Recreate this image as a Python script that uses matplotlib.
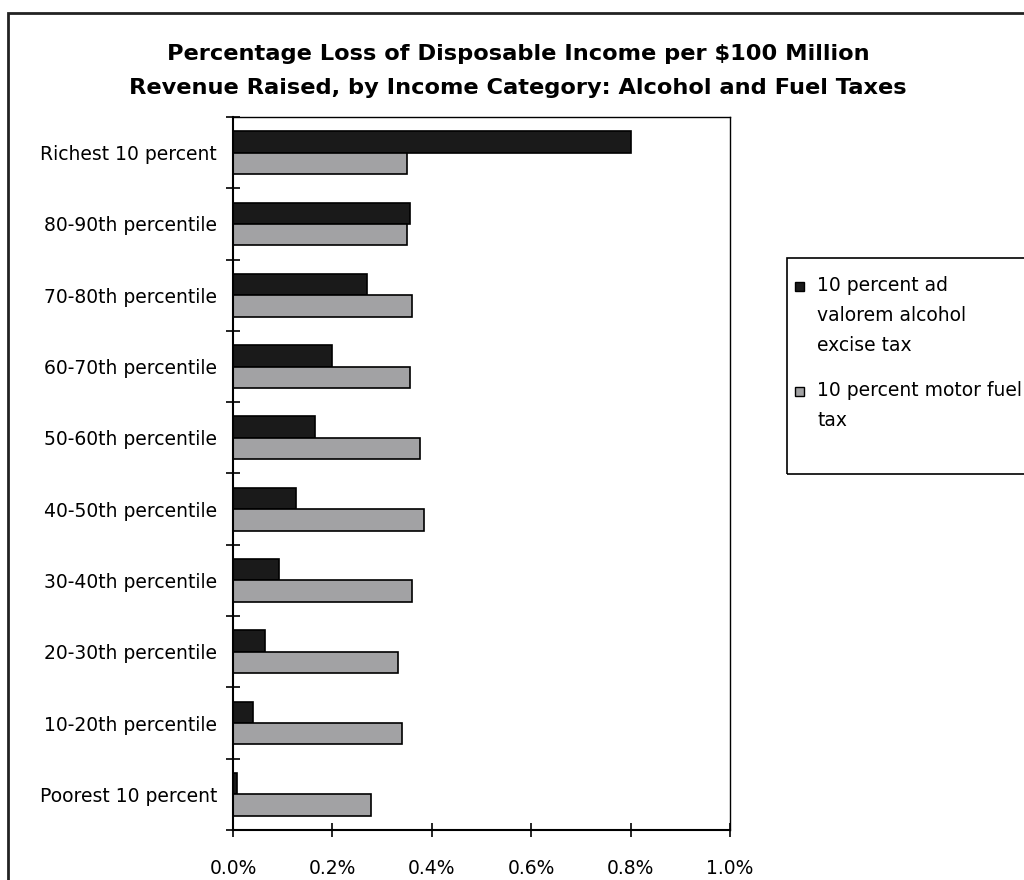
import numpy as np
import matplotlib.pyplot as plt
from matplotlib.patches import Rectangle

plt.rcParams['font.family'] = ['DejaVu Sans']

categories = ['Richest 10 percent', '80-90th percentile', '70-80th percentile',
              '60-70th percentile', '50-60th percentile', '40-50th percentile',
              '30-40th percentile', '20-30th percentile', '10-20th percentile',
              'Poorest 10 percent']
# percent of disposable income lost
alcohol = [0.80, 0.356, 0.269, 0.200, 0.165, 0.127, 0.092, 0.064, 0.040, 0.009]
fuel = [0.350, 0.350, 0.360, 0.356, 0.376, 0.384, 0.360, 0.332, 0.340, 0.277]
series_labels = ['10 percent ad\nvalorem alcohol\nexcise tax',
                 '10 percent motor fuel\ntax']
series_colors = ['#1a1a1a', '#a2a2a4']
xticks = [0.0, 0.2, 0.4, 0.6, 0.8, 1.0]
title = ('Percentage Loss of Disposable Income per $100 Million\n'
         'Revenue Raised, by Income Category: Alcohol and Fuel Taxes')

W, H = 1024, 880
fs = 13.5
fig = plt.figure(figsize=(W/100, H/100), dpi=100)
ax = fig.add_axes([233/W, 1-830/H, 497/W, 713/H])

n = len(categories)
y = np.arange(n)
bh = 0.3
ax.barh(y - bh/2, alcohol, height=bh, color=series_colors[0],
        edgecolor='black', linewidth=1.2)
ax.barh(y + bh/2, fuel, height=bh, color=series_colors[1],
        edgecolor='black', linewidth=1.2)

ax.set_ylim(n - 0.5, -0.5)
ax.set_xlim(0, 1.0)
ax.set_yticks(y)
ax.set_yticklabels(categories, fontsize=fs)
ax.tick_params(axis='y', which='major', length=0, pad=11.5)
ax.set_yticks(np.arange(-0.5, n, 1.0), minor=True)
ax.tick_params(axis='y', which='minor', direction='inout', length=10, width=1.2)
ax.set_xticks(xticks)
ax.set_xticklabels(['{:.1f}%'.format(v) for v in xticks], fontsize=fs)
ax.tick_params(axis='x', direction='inout', length=10, width=1.2, pad=16)
for s in ax.spines.values():
    s.set_linewidth(1.0)
ax.spines['left'].set_linewidth(1.5)
ax.spines['bottom'].set_linewidth(1.5)

fig.text(518/W, 1-71/H, title, ha='center', va='center', fontsize=16.2,
         fontweight='bold', linespacing=1.9)

# legend drawn by hand: marker sits level with the first text line
fig.patches.append(Rectangle((787/W, 1-474/H), 260/W, 216/H,
                             transform=fig.transFigure, fill=False,
                             edgecolor='black', linewidth=1.2))
for i, (lab, col) in enumerate(zip(series_labels, series_colors)):
    yc = 286 + 105*i
    fig.patches.append(Rectangle((795/W, 1-(yc+5)/H), 9/W, 9/H,
                                 transform=fig.transFigure, facecolor=col,
                                 edgecolor='black', linewidth=1.0))
    fig.text(817/W, 1-(yc-10)/H, lab, ha='left', va='top', fontsize=fs,
             linespacing=1.72)

# outer frame around the figure
fig.patches.append(Rectangle((8/W, -0.1), 1.2, 1 - 13/H + 0.1,
                             transform=fig.transFigure, fill=False,
                             edgecolor='#222222', linewidth=2))

fig.savefig('out.png', dpi=100)
